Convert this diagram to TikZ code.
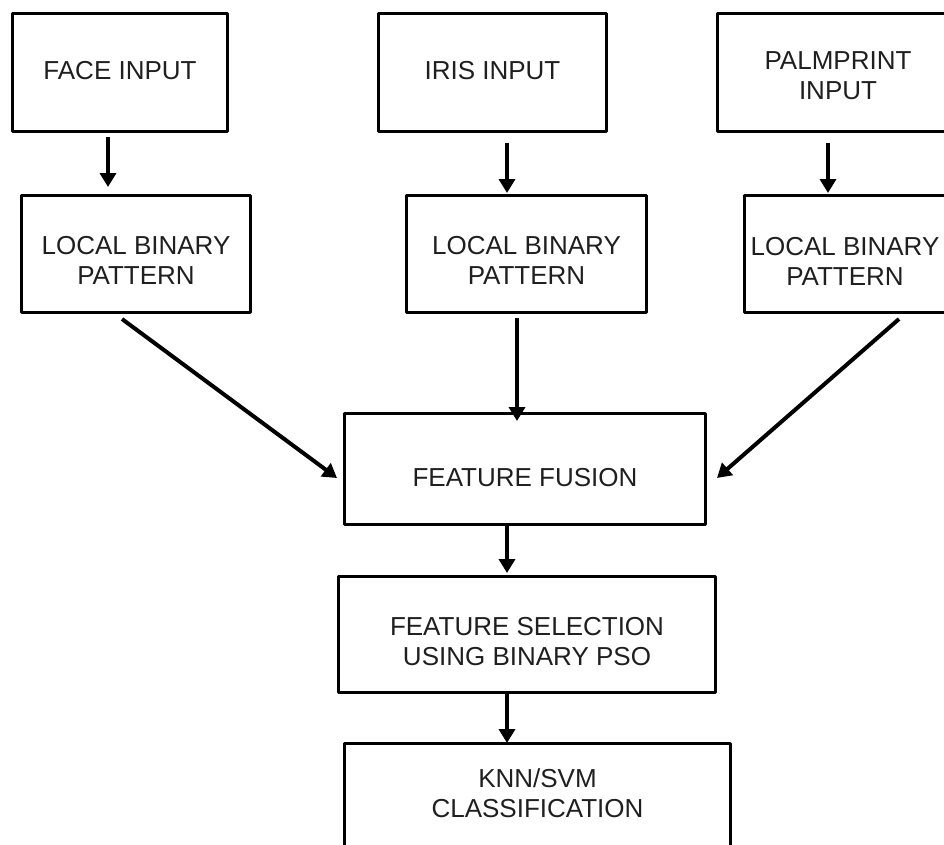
\documentclass[tikz,border=0pt]{standalone}
\usepackage{fontspec}
\setmainfont{Liberation Sans}
\usetikzlibrary{arrows.meta}

\begin{document}
\begin{tikzpicture}[x=1pt, y=-1pt, line width=3pt, line join=round,
  box/.style={draw, align=center, inner sep=0pt, text=black!88,
    font=\fontsize{26}{30}\selectfont},
  flow/.style={line width=4pt, -{Triangle[width=16pt,length=14pt]}}]

% one pixel of the picture is one point, y runs downwards
\useasboundingbox (0,0) rectangle (944,844);

% the three inputs (the palmprint box runs off the right edge)
\node[box, minimum width=215pt, minimum height=118pt, text depth=4pt] (face) at (120,72.5) {FACE INPUT};
\node[box, minimum width=228pt, minimum height=118pt, text depth=4pt] (iris) at (492.5,72.5) {IRIS INPUT};
\node[box, minimum width=241pt, minimum height=118pt, text height=53pt, text depth=0pt] (palm) at (838,72.5) {PALMPRINT\\INPUT};

% local binary pattern for each of them
\node[box, minimum width=229pt, minimum height=117pt, text height=61pt, text depth=0pt] (lbp1) at (136,254) {LOCAL BINARY\\PATTERN};
\node[box, minimum width=240pt, minimum height=117pt, text height=61pt, text depth=0pt] (lbp2) at (526.5,254) {LOCAL BINARY\\PATTERN};
\node[box, minimum width=201pt, minimum height=117pt, text height=63pt, text depth=0pt] (lbp3) at (845,254) {LOCAL BINARY\\PATTERN};

% fusion, selection and the classifier (cut off at the bottom)
\node[box, minimum width=361pt, minimum height=111pt, text height=35pt, text depth=0pt] (fusion) at (525,469) {FEATURE FUSION};
\node[box, minimum width=377pt, minimum height=116pt, text height=61pt, text depth=0pt] (select) at (527,634.5) {FEATURE SELECTION\\USING BINARY PSO};
\node[box, minimum width=386pt, minimum height=103.5pt, text depth=4pt] (classify) at (537.5,795.25) {KNN/SVM\\CLASSIFICATION};

\draw[flow] ([xshift=-12pt,yshift=-4pt]face.south) -- ([xshift=-28pt,yshift=7pt]lbp1.north);
\draw[flow] ([xshift=14.5pt,yshift=-10pt]iris.south) -- ([xshift=-19.5pt,yshift=1pt]lbp2.north);
\draw[flow] ([xshift=-10pt,yshift=-10pt]palm.south) -- ([xshift=-17pt,yshift=1pt]lbp3.north);

\draw[flow] ([xshift=-14pt,yshift=-5pt]lbp1.south) -- ([xshift=-6pt,yshift=-9pt]fusion.west);
\draw[flow] ([xshift=-9.5pt,yshift=-4pt]lbp2.south) -- ([xshift=-8pt,yshift=-9pt]fusion.north);
\draw[flow] ([xshift=54pt,yshift=-5pt]lbp3.south) -- ([xshift=10pt,yshift=-9pt]fusion.east);

\draw[flow] ([xshift=-18pt]fusion.south) -- ([xshift=-20pt,yshift=2pt]select.north);
\draw[flow] ([xshift=-20pt]select.south) -- ([xshift=-30.5pt,yshift=-1pt]classify.north);
\end{tikzpicture}
\end{document}
